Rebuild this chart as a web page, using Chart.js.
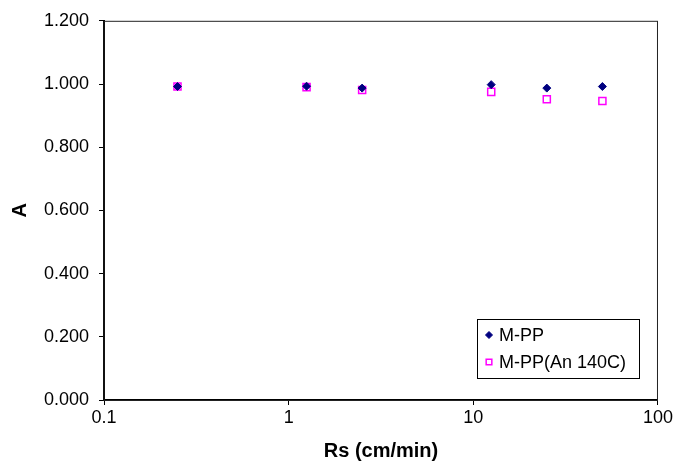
<!DOCTYPE html>
<html>
<head>
<meta charset="utf-8">
<script src="https://cdn.jsdelivr.net/npm/chart.js@4.4.1/dist/chart.umd.min.js"></script>
<style>
  html, body { margin: 0; padding: 0; background: #fff; }
  #wrap { width: 675px; height: 461px; position: relative; }
</style>
</head>
<body>
<div id="wrap"><canvas id="myChart"></canvas></div>
<script>
// Rs (cm/min)
const rsValues = [0.25, 1.25, 2.5, 12.5, 25, 50];
// A values
const mpp = [0.992, 0.993, 0.987, 0.998, 0.987, 0.992];
const mppAn = [0.992, 0.990, 0.981, 0.975, 0.952, 0.946];
const xTicks = [0.1, 1, 10, 100];
const seriesNames = ['M-PP', 'M-PP(An 140C)'];

const toPoints = (xs, ys) => xs.map((x, i) => ({ x: x, y: ys[i] }));

// frame round the plot area plus the boxed legend inside it
const framePlugin = {
  id: 'frame',
  afterDraw(chart) {
    const { ctx, chartArea } = chart;
    ctx.save();
    ctx.strokeStyle = '#222';
    ctx.lineWidth = 1;
    ctx.strokeRect(chartArea.left, chartArea.top + 0.5, chartArea.right - chartArea.left - 0.5, chartArea.bottom - chartArea.top);

    // legend
    const bx = 477, by = 319, bw = 162, bh = 59;
    ctx.fillStyle = '#fff';
    ctx.fillRect(bx, by, bw, bh);
    ctx.strokeStyle = '#000';
    ctx.strokeRect(bx + 0.5, by + 0.5, bw, bh);
    ctx.font = '18px "Liberation Sans", Arial, sans-serif';
    ctx.textBaseline = 'middle';
    ctx.textAlign = 'left';
    chart.data.datasets.forEach((ds, i) => {
      const y = by + 16 + i * 27;
      ctx.fillStyle = ds.backgroundColor;
      ctx.strokeStyle = ds.borderColor;
      ctx.lineWidth = ds.borderWidth;
      Chart.helpers.drawPoint(ctx, {
        pointStyle: ds.pointStyle,
        radius: ds.pointStyle === 'rect' ? 4 : 3.5,
        borderWidth: ds.borderWidth
      }, 489, y);
      ctx.fillStyle = '#000';
      ctx.fillText(ds.label, 499, y + 1);
    });
    ctx.restore();
  }
};

const ctx = document.getElementById('myChart').getContext('2d');
const myChart = new Chart(ctx, {
  type: 'scatter',
  data: {
    datasets: [{
      label: seriesNames[0],
      data: toPoints(rsValues, mpp),
      pointStyle: 'rectRot',
      pointRadius: 4,
      backgroundColor: '#000080',
      borderColor: '#000080',
      borderWidth: 1
    }, {
      label: seriesNames[1],
      data: toPoints(rsValues, mppAn),
      pointStyle: 'rect',
      pointRadius: 5,
      backgroundColor: 'rgba(255,255,255,0)',
      borderColor: '#ff00ff',
      borderWidth: 1.5
    }]
  },
  options: {
    responsive: true,
    maintainAspectRatio: false,
    animation: false,
    layout: { padding: { left: 0, right: 17, top: 18, bottom: 0 } },
    plugins: {
      legend: { display: false },
      tooltip: { enabled: false }
    },
    scales: {
      x: {
        type: 'logarithmic',
        min: 0.1,
        max: 100,
        afterBuildTicks: scale => { scale.ticks = xTicks.map(v => ({ value: v })); },
        afterFit: scale => { scale.height = 61; },
        ticks: {
          color: '#000',
          font: { family: '"Liberation Sans", Arial, sans-serif', size: 18 },
          padding: 2,
          maxRotation: 0,
          autoSkip: false,
          callback: v => String(v)
        },
        grid: { drawOnChartArea: false, drawTicks: true, tickLength: 5, color: '#000' },
        border: { display: true, color: '#000', width: 2 },
        title: {
          display: true,
          text: 'Rs (cm/min)',
          color: '#000',
          font: { family: '"Liberation Sans", Arial, sans-serif', size: 20, weight: 'bold', lineHeight: 1 },
          padding: { top: 0, bottom: 0 }
        }
      },
      y: {
        min: 0,
        max: 1.2,
        afterFit: scale => { scale.width = 104; },
        ticks: {
          stepSize: 0.2,
          color: '#000',
          font: { family: '"Liberation Sans", Arial, sans-serif', size: 18 },
          padding: 10,
          callback: v => v.toFixed(3)
        },
        grid: { drawOnChartArea: false, drawTicks: true, tickLength: 5, color: '#000' },
        border: { display: true, color: '#000', width: 2 },
        title: {
          display: true,
          text: 'A',
          color: '#000',
          font: { family: '"Liberation Sans", Arial, sans-serif', size: 20, weight: 'bold', lineHeight: 1 },
          padding: { top: 10, bottom: 0 }
        }
      }
    }
  },
  plugins: [framePlugin]
});
</script>
</body>
</html>
